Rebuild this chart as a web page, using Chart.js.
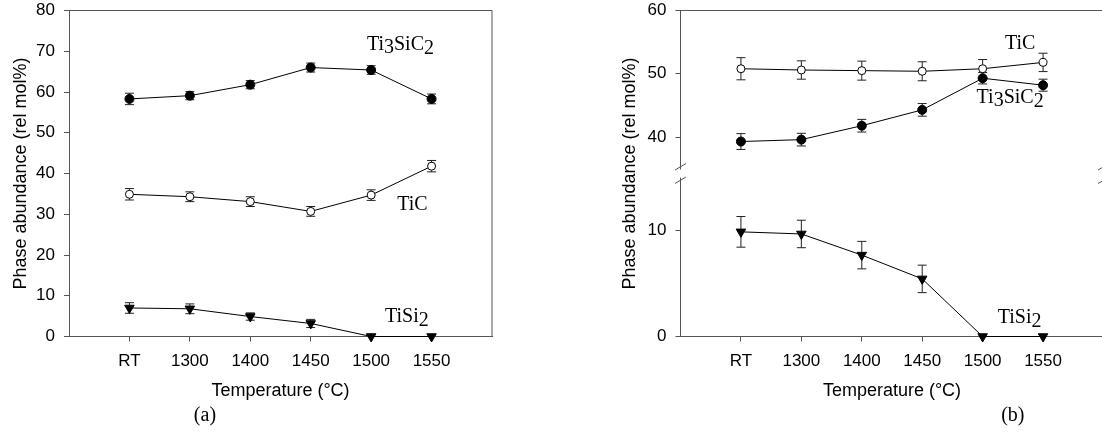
<!DOCTYPE html>
<html>
<head>
<meta charset="utf-8">
<script src="https://cdn.jsdelivr.net/npm/chart.js@4"></script>
<style>
html, body { margin: 0; padding: 0; background: #fff; overflow: hidden; width: 1102px; height: 436px; }
#wrap_a { position: absolute; left: 0; top: 0; width: 551px; height: 436px; }
#wrap_b { position: absolute; left: 551px; top: 0; width: 560px; height: 436px; }
</style>
</head>
<body>
<div id="wrap_a"><canvas id="graph_a" width="551" height="436"></canvas></div>
<div id="wrap_b"><canvas id="graph_b" width="560" height="436"></canvas></div>
<script>
// categories
const temps = [`RT`, `1300`, `1400`, `1450`, `1500`, `1550`]

// (a)
const a_ti3sic2 = [58.3, 59.1, 61.8, 66.0, 65.4, 58.3]
const a_ti3sic2_err = [1.4, 1.0, 1.0, 1.1, 1.05, 1.2]
const a_tic = [34.9, 34.3, 33.1, 30.7, 34.7, 41.8]
const a_tic_err = [1.4, 1.2, 1.2, 1.2, 1.3, 1.4]
const a_tisi2 = [7.0, 6.8, 4.9, 3.2, 0, 0]
const a_tisi2_err = [1.3, 1.2, 0.9, 1.0, 0, 0]
const a_ticks = [0, 10, 20, 30, 40, 50, 60, 70, 80]

// (b)
const b_tic = [50.8, 50.6, 50.5, 50.4, 50.8, 51.8]
const b_tic_err = [1.75, 1.45, 1.5, 1.5, 1.45, 1.45]
const b_ti3sic2 = [39.3, 39.6, 41.8, 44.3, 49.3, 48.2]
const b_ti3sic2_err = [1.25, 1.0, 1.0, 1.0, 0.9, 0.95]
const b_tisi2 = [9.9, 9.7, 7.7, 5.45, 0, 0]
const b_tisi2_err = [1.45, 1.3, 1.3, 1.3, 0, 0]
const b_upper_ticks = [40, 50, 60]
const b_lower_ticks = [0, 10]

const sans = `"Liberation Sans", Arial, sans-serif`
const serif = `"Liberation Serif", "Times New Roman", serif`
const axis_grey = `#555`

// formula pieces: [text, drop below baseline]
const f_ti3sic2 = [[`Ti`, 0], [`3`, 3], [`SiC`, 0], [`2`, 4]]
const f_tic = [[`TiC`, 0]]
const f_tisi2 = [[`TiSi`, 0], [`2`, 4]]

function points(values) {
    return values.map((v, i) => ({x: i, y: v}))
}

function dataset(values, errors, style, axis) {
    return {
        data: points(values),
        errors: errors,
        yAxisID: axis,
        borderColor: `#000`,
        borderWidth: 1,
        pointStyle: style === `tri` ? `triangle` : `circle`,
        rotation: style === `tri` ? 180 : 0,
        pointRadius: style === `tri` ? 5.5 : (style === `open` ? 4 : 4.5),
        pointBackgroundColor: style === `open` ? `#fff` : `#000`,
        pointBorderColor: `#000`,
        pointBorderWidth: 1,
        pointHoverRadius: 0,
        clip: false,
        tension: 0
    }
}

function x_scale() {
    return {
        type: `linear`,
        min: -1,
        max: 6,
        afterBuildTicks: scale => { scale.ticks = temps.map((t, i) => ({value: i})) },
        afterFit: scale => {
            scale.height = 99.5
            scale.paddingLeft = 0
            scale.paddingRight = 0
        },
        ticks: {callback: v => temps[v], font: {family: sans, size: 17}, color: `#000`, padding: 10, maxRotation: 0, autoSkip: false},
        grid: {drawOnChartArea: false, tickLength: 5, color: axis_grey},
        border: {color: axis_grey},
        title: {display: true, text: `Temperature (°C)`, font: {family: sans, size: 18}, color: `#000`, padding: {top: 0, bottom: 34}}
    }
}

function y_scale(min, max, ticks, width) {
    return {
        type: `linear`,
        position: `left`,
        min: min,
        max: max,
        afterBuildTicks: scale => { scale.ticks = ticks.map(v => ({value: v})) },
        afterFit: scale => {
            scale.width = width
            scale.paddingTop = 0
            scale.paddingBottom = 0
        },
        ticks: {font: {family: sans, size: 17}, color: `#000`, padding: 9},
        grid: {drawOnChartArea: false, tickLength: 5, color: axis_grey},
        border: {color: axis_grey}
    }
}

function draw_formula(ctx, parts, x, y) {
    ctx.save()
    ctx.font = `20px ${serif}`
    ctx.fillStyle = `#000`
    ctx.textAlign = `left`
    ctx.textBaseline = `alphabetic`
    let cx = x
    parts.forEach(([text, drop]) => {
        ctx.fillText(text, cx, y + drop)
        cx += ctx.measureText(text).width
    })
    ctx.restore()
}

const error_bars = {
    id: `error_bars`,
    beforeDatasetsDraw(chart) {
        const ctx = chart.ctx
        ctx.save()
        ctx.strokeStyle = `#222`
        ctx.lineWidth = 1
        chart.data.datasets.forEach((ds, d) => {
            const meta = chart.getDatasetMeta(d)
            const scale = chart.scales[ds.yAxisID]
            ds.data.forEach((p, i) => {
                const e = ds.errors[i]
                if (!e) return
                const x = meta.data[i].x
                const top = scale.getPixelForValue(p.y + e)
                const bottom = scale.getPixelForValue(p.y - e)
                ctx.beginPath()
                ctx.moveTo(x, top)
                ctx.lineTo(x, bottom)
                ctx.moveTo(x - 4.5, top)
                ctx.lineTo(x + 4.5, top)
                ctx.moveTo(x - 4.5, bottom)
                ctx.lineTo(x + 4.5, bottom)
                ctx.stroke()
            })
        })
        ctx.restore()
    }
}

function annotations(labels, letter, frame) {
    return {
        id: `annotations`,
        afterDraw(chart) {
            const ctx = chart.ctx
            const area = chart.chartArea
            const xs = chart.scales.x
            ctx.save()
            ctx.strokeStyle = axis_grey
            ctx.lineWidth = 1
            ctx.beginPath()
            ctx.moveTo(area.left, area.top)
            ctx.lineTo(area.right, area.top)
            if (frame) ctx.lineTo(area.right, area.bottom)
            ctx.stroke()
            ctx.restore()

            labels.forEach(l => {
                draw_formula(ctx, l.parts, xs.getPixelForValue(l.x), chart.scales[l.axis].getPixelForValue(l.y))
            })

            ctx.save()
            ctx.font = `20px ${serif}`
            ctx.fillStyle = `#000`
            ctx.textAlign = `center`
            ctx.textBaseline = `middle`
            ctx.fillText(letter.text, xs.getPixelForValue(letter.x), 416)
            ctx.restore()
        }
    }
}

function make_a() {
    const y = y_scale(0, 80, a_ticks, 69)
    y.title = {display: true, text: `Phase abundance (rel mol%)`, font: {family: sans, size: 18}, color: `#000`, padding: {top: 10, bottom: 0}}
    new Chart(document.getElementById(`graph_a`), {
        type: `line`,
        data: {
            datasets: [
                dataset(a_ti3sic2, a_ti3sic2_err, `filled`, `y`),
                dataset(a_tic, a_tic_err, `open`, `y`),
                dataset(a_tisi2, a_tisi2_err, `tri`, `y`)
            ]
        },
        options: {
            responsive: false,
            animation: false,
            devicePixelRatio: 1,
            layout: {padding: {top: 10.5, right: 59, bottom: 0, left: 0}},
            plugins: {legend: {display: false}, tooltip: {enabled: false}},
            scales: {x: x_scale(), y: y}
        },
        plugins: [error_bars, annotations([
            {parts: f_ti3sic2, x: 3.93, y: 70.3, axis: `y`},
            {parts: f_tic, x: 4.43, y: 31.0, axis: `y`},
            {parts: f_tisi2, x: 4.23, y: 3.5, axis: `y`}
        ], {text: `(a)`, x: 1.25}, true)]
    })
}

const break_marks = {
    id: `break_marks`,
    afterDraw(chart) {
        const ctx = chart.ctx
        const area = chart.chartArea
        const mid = chart.scales.y_low.top
        ctx.save()
        ;[area.left, area.right].forEach(x => {
            ctx.fillStyle = `#fff`
            ctx.fillRect(x - 2, mid - 4, 4, 8)
            ctx.strokeStyle = axis_grey
            ctx.lineWidth = 1
            ctx.beginPath()
            ctx.moveTo(x - 5.5, mid - 3.5)
            ctx.lineTo(x + 5.5, mid - 10)
            ctx.moveTo(x - 5.5, mid + 10)
            ctx.lineTo(x + 5.5, mid + 3.5)
            ctx.stroke()
        })
        // shared y title across both stacked axes
        ctx.translate(79, (area.top + area.bottom) / 2)
        ctx.rotate(-Math.PI / 2)
        ctx.font = `18px ${sans}`
        ctx.fillStyle = `#000`
        ctx.textAlign = `center`
        ctx.textBaseline = `middle`
        ctx.fillText(`Phase abundance (rel mol%)`, 0, 0)
        ctx.restore()
    }
}

function make_b() {
    const upper = y_scale(34.25, 60, b_upper_ticks, 129.5)
    upper.stack = `b`
    upper.stackWeight = 1
    const lower = y_scale(0, 15.42, b_lower_ticks, 129.5)
    lower.stack = `b`
    lower.stackWeight = 1
    new Chart(document.getElementById(`graph_b`), {
        type: `line`,
        data: {
            datasets: [
                dataset(b_tic, b_tic_err, `open`, `y_up`),
                dataset(b_ti3sic2, b_ti3sic2_err, `filled`, `y_up`),
                dataset(b_tisi2, b_tisi2_err, `tri`, `y_low`)
            ]
        },
        options: {
            responsive: false,
            animation: false,
            devicePixelRatio: 1,
            layout: {padding: {top: 10.5, right: 7.5, bottom: 0, left: 0}},
            plugins: {legend: {display: false}, tooltip: {enabled: false}},
            scales: {x: x_scale(), y_low: lower, y_up: upper}
        },
        plugins: [error_bars, break_marks, annotations([
            {parts: f_tic, x: 4.37, y: 53.9, axis: `y_up`},
            {parts: f_ti3sic2, x: 3.9, y: 45.4, axis: `y_up`},
            {parts: f_tisi2, x: 4.25, y: 1.28, axis: `y_low`}
        ], {text: `(b)`, x: 4.5}, false)]
    })
}

make_a()
make_b()
</script>
</body>
</html>
